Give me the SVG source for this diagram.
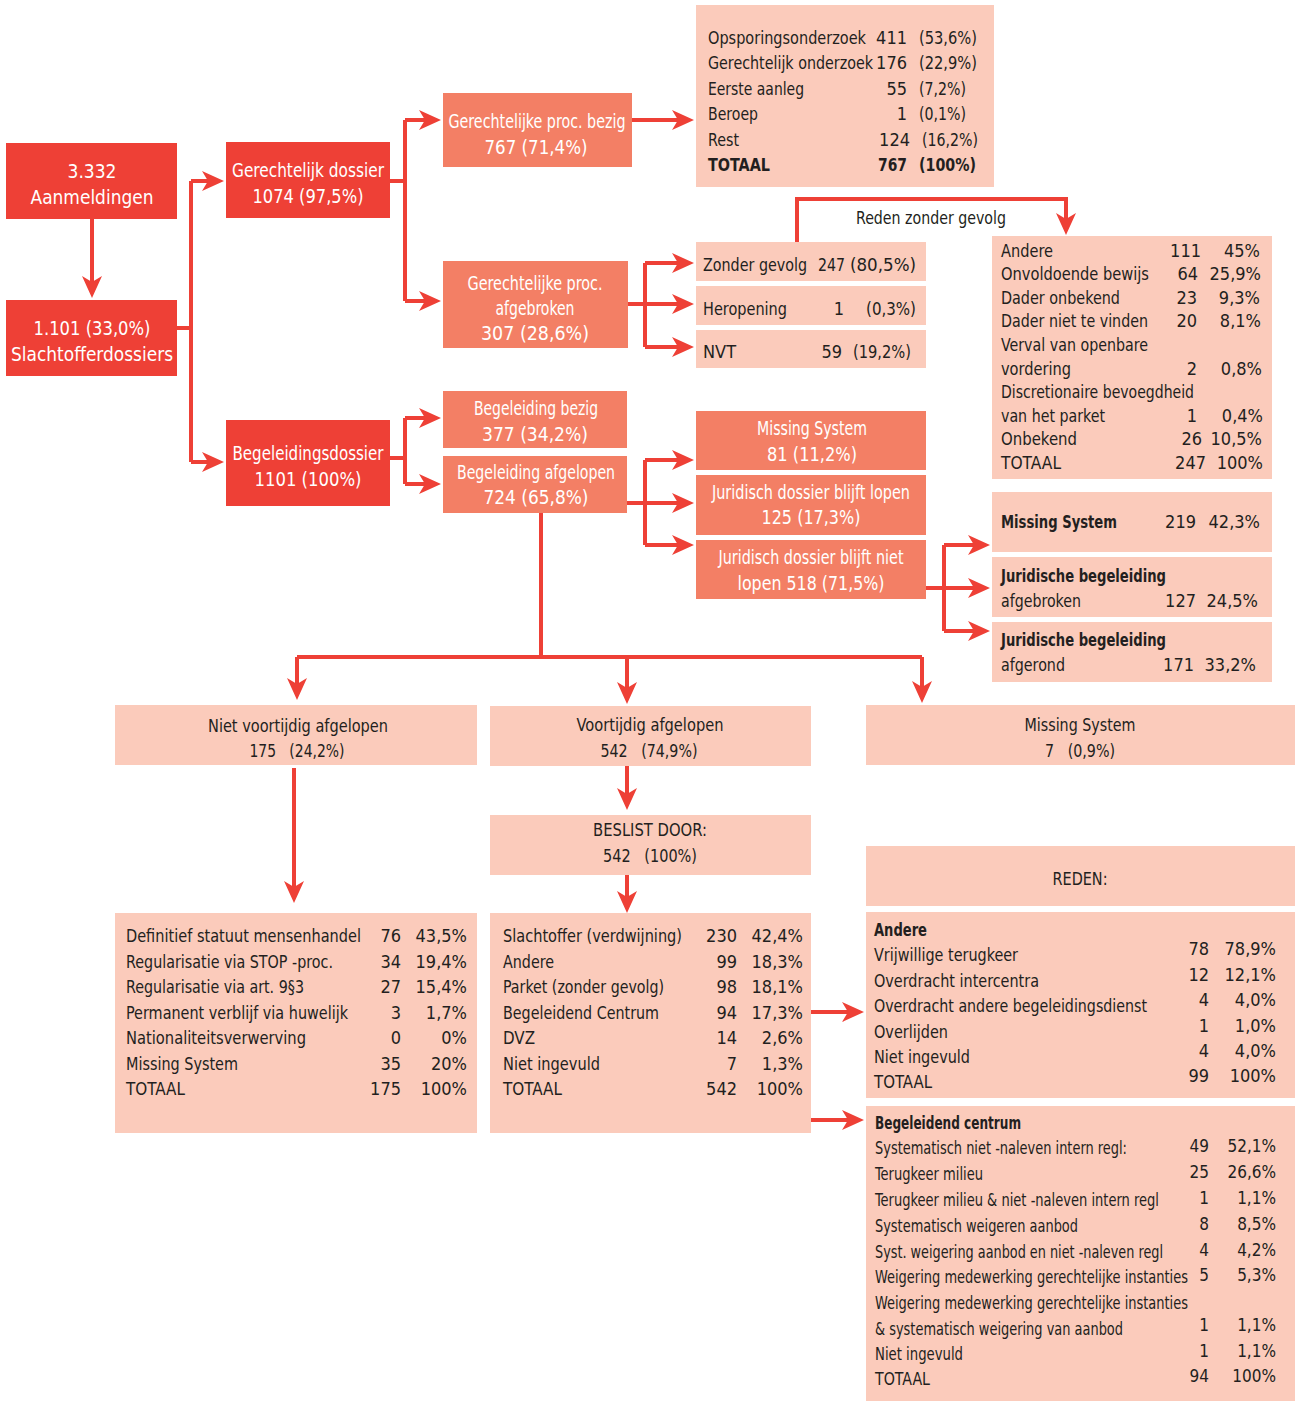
<svg xmlns="http://www.w3.org/2000/svg" width="1297" height="1402" viewBox="0 0 1297 1402">
<defs>
<style>
text{font-family:"Liberation Sans Narrow","DejaVu Sans Condensed","Roboto Condensed","DejaVu Sans",sans-serif;font-stretch:condensed;font-size:18px;fill:#231F20}
.w{fill:#FFFFFF;text-anchor:middle;font-size:19px}
.c{text-anchor:middle}
.r{text-anchor:end}
.b{font-weight:bold}
.s{font-size:17px}
.d{fill:#EE4036}
.m{fill:#F37F65}
.l{fill:#FBCBBB}
.cn{fill:none;stroke:#EE4036;stroke-width:4}
.ar{marker-end:url(#ah)}
</style>
<marker id="ah" markerUnits="userSpaceOnUse" viewBox="-30 -11 30 22" refX="-8" refY="0" markerWidth="30" markerHeight="22" orient="auto">
<path d="M0,0 L-22,-10 L-16,0 L-22,10 Z" fill="#EE4036"/>
</marker>
</defs>
<rect width="1297" height="1402" fill="#FFFFFF"/>

<g id="connectors">
<path class="cn ar" d="M92,219 V290"/>
<path class="cn" d="M177,328 H191 M191,181 V462"/>
<path class="cn ar" d="M191,181 H216"/>
<path class="cn ar" d="M191,462 H216"/>
<path class="cn" d="M390,181 H405 M405,120 V301"/>
<path class="cn ar" d="M405,120 H433"/>
<path class="cn ar" d="M405,301 H433"/>
<path class="cn ar" d="M632,120 H686"/>
<path class="cn" d="M628,304 H645 M645,263 V347"/>
<path class="cn ar" d="M645,263 H686"/>
<path class="cn ar" d="M645,304 H686"/>
<path class="cn ar" d="M645,347 H686"/>
<path class="cn ar" d="M797,242 V199 H1066 V227"/>
<path class="cn" d="M390,458 H405 M405,418 V484"/>
<path class="cn ar" d="M405,418 H433"/>
<path class="cn ar" d="M405,484 H433"/>
<path class="cn" d="M627,503 H645 M645,460 V545"/>
<path class="cn ar" d="M645,460 H686"/>
<path class="cn ar" d="M645,503 H686"/>
<path class="cn ar" d="M645,545 H686"/>
<path class="cn" d="M926,588 H944 M944,545 V631"/>
<path class="cn ar" d="M944,545 H982"/>
<path class="cn ar" d="M944,588 H982"/>
<path class="cn ar" d="M944,631 H982"/>
<path class="cn" d="M541,513 V657 M297,657 H922"/>
<path class="cn ar" d="M297,657 V692"/>
<path class="cn ar" d="M627,657 V696"/>
<path class="cn ar" d="M922,657 V695"/>
<path class="cn ar" d="M294,768 V895"/>
<path class="cn ar" d="M627,766 V802"/>
<path class="cn ar" d="M627,875 V905"/>
<path class="cn ar" d="M811,1012 H856"/>
<path class="cn ar" d="M811,1120 H856"/>
<text x="931" y="224" class="c" textLength="150" lengthAdjust="spacingAndGlyphs">Reden zonder gevolg</text>
</g>

<g id="aanmeldingen">
<rect class="d" x="6" y="143" width="171" height="76"/>
<text class="w" x="92" y="178" textLength="49" lengthAdjust="spacingAndGlyphs">3.332</text>
<text class="w" x="92" y="204" textLength="123" lengthAdjust="spacingAndGlyphs">Aanmeldingen</text>
</g>
<g id="slachtofferdossiers">
<rect class="d" x="6" y="300" width="171" height="76"/>
<text class="w" x="92" y="335" textLength="117" lengthAdjust="spacingAndGlyphs">1.101 (33,0%)</text>
<text class="w" x="92" y="361" textLength="162" lengthAdjust="spacingAndGlyphs">Slachtofferdossiers</text>
</g>
<g id="gerechtelijk-dossier">
<rect class="d" x="226" y="142" width="164" height="76"/>
<text class="w" x="308" y="177" textLength="152" lengthAdjust="spacingAndGlyphs">Gerechtelijk dossier</text>
<text class="w" x="308" y="203" textLength="111" lengthAdjust="spacingAndGlyphs">1074 (97,5%)</text>
</g>
<g id="begeleidingsdossier">
<rect class="d" x="226" y="420" width="164" height="86"/>
<text class="w" x="308" y="460" textLength="151" lengthAdjust="spacingAndGlyphs">Begeleidingsdossier</text>
<text class="w" x="308" y="486" textLength="107" lengthAdjust="spacingAndGlyphs">1101 (100%)</text>
</g>

<g id="proc-bezig">
<rect class="m" x="443" y="93" width="189" height="74"/>
<text class="w" x="537" y="128" textLength="177" lengthAdjust="spacingAndGlyphs">Gerechtelijke proc. bezig</text>
<text class="w" x="536" y="154" textLength="103" lengthAdjust="spacingAndGlyphs">767 (71,4%)</text>
</g>
<g id="proc-afgebroken">
<rect class="m" x="443" y="261" width="185" height="87"/>
<text class="w" x="535" y="290" textLength="135" lengthAdjust="spacingAndGlyphs">Gerechtelijke proc.</text>
<text class="w" x="535" y="315" textLength="79" lengthAdjust="spacingAndGlyphs">afgebroken</text>
<text class="w" x="535" y="340" textLength="108" lengthAdjust="spacingAndGlyphs">307 (28,6%)</text>
</g>

<g id="tabel-bezig">
<rect class="l" x="696" y="5" width="298" height="182"/>
<text x="708" y="44" textLength="158" lengthAdjust="spacingAndGlyphs">Opsporingsonderzoek</text><text class="r" x="907" y="44">411</text><text x="919" y="44" textLength="58" lengthAdjust="spacingAndGlyphs">(53,6%)</text>
<text x="708" y="69" textLength="165" lengthAdjust="spacingAndGlyphs">Gerechtelijk onderzoek</text><text class="r" x="907" y="69">176</text><text x="919" y="69" textLength="58" lengthAdjust="spacingAndGlyphs">(22,9%)</text>
<text x="708" y="95" textLength="96" lengthAdjust="spacingAndGlyphs">Eerste aanleg</text><text class="r" x="907" y="95">55</text><text x="919" y="95" textLength="47" lengthAdjust="spacingAndGlyphs">(7,2%)</text>
<text x="708" y="120" textLength="50" lengthAdjust="spacingAndGlyphs">Beroep</text><text class="r" x="907" y="120">1</text><text x="919" y="120" textLength="47" lengthAdjust="spacingAndGlyphs">(0,1%)</text>
<text x="708" y="146" textLength="31" lengthAdjust="spacingAndGlyphs">Rest</text><text class="r" x="910" y="146">124</text><text x="922" y="146" textLength="56" lengthAdjust="spacingAndGlyphs">(16,2%)</text>
<text class="b" x="708" y="171" textLength="62" lengthAdjust="spacingAndGlyphs">TOTAAL</text><text class="r b" x="907" y="171" textLength="29" lengthAdjust="spacingAndGlyphs">767</text><text class="b" x="919" y="171" textLength="57" lengthAdjust="spacingAndGlyphs">(100%)</text>
</g>

<g id="zonder-gevolg">
<rect class="l" x="696" y="242" width="230" height="39"/>
<text x="703" y="271" textLength="104" lengthAdjust="spacingAndGlyphs">Zonder gevolg</text><text class="r" x="845" y="271" textLength="27" lengthAdjust="spacingAndGlyphs">247</text><text class="r" x="916" y="271" textLength="66" lengthAdjust="spacingAndGlyphs">(80,5%)</text>
</g>
<g id="heropening">
<rect class="l" x="696" y="286" width="230" height="39"/>
<text x="703" y="315" textLength="84" lengthAdjust="spacingAndGlyphs">Heropening</text><text class="r" x="844" y="315">1</text><text class="r" x="916" y="315" textLength="50" lengthAdjust="spacingAndGlyphs">(0,3%)</text>
</g>
<g id="nvt">
<rect class="l" x="696" y="330" width="230" height="38"/>
<text x="703" y="358" textLength="33" lengthAdjust="spacingAndGlyphs">NVT</text><text class="r" x="842" y="358">59</text><text class="r" x="911" y="358" textLength="58" lengthAdjust="spacingAndGlyphs">(19,2%)</text>
</g>

<g id="tabel-reden-zonder-gevolg">
<rect class="l" x="992" y="236" width="280" height="243"/>
<text x="1001" y="257" textLength="52" lengthAdjust="spacingAndGlyphs">Andere</text><text class="r" x="1201" y="257">111</text><text class="r" x="1260" y="257">45%</text>
<text x="1001" y="280" textLength="148" lengthAdjust="spacingAndGlyphs">Onvoldoende bewijs</text><text class="r" x="1198" y="280">64</text><text class="r" x="1261" y="280">25,9%</text>
<text x="1001" y="304" textLength="119" lengthAdjust="spacingAndGlyphs">Dader onbekend</text><text class="r" x="1197" y="304">23</text><text class="r" x="1260" y="304">9,3%</text>
<text x="1001" y="327" textLength="147" lengthAdjust="spacingAndGlyphs">Dader niet te vinden</text><text class="r" x="1197" y="327">20</text><text class="r" x="1261" y="327">8,1%</text>
<text x="1001" y="351" textLength="147" lengthAdjust="spacingAndGlyphs">Verval van openbare</text>
<text x="1001" y="375" textLength="70" lengthAdjust="spacingAndGlyphs">vordering</text><text class="r" x="1197" y="375">2</text><text class="r" x="1262" y="375">0,8%</text>
<text x="1001" y="398" textLength="193" lengthAdjust="spacingAndGlyphs">Discretionaire bevoegdheid</text>
<text x="1001" y="422" textLength="104" lengthAdjust="spacingAndGlyphs">van het parket</text><text class="r" x="1197" y="422">1</text><text class="r" x="1263" y="422">0,4%</text>
<text x="1001" y="445" textLength="76" lengthAdjust="spacingAndGlyphs">Onbekend</text><text class="r" x="1202" y="445">26</text><text class="r" x="1262" y="445">10,5%</text>
<text x="1001" y="469" textLength="60" lengthAdjust="spacingAndGlyphs">TOTAAL</text><text class="r" x="1206" y="469">247</text><text class="r" x="1263" y="469">100%</text>
</g>

<g id="begeleiding-bezig">
<rect class="m" x="443" y="391" width="184" height="57"/>
<text class="w" x="536" y="415" textLength="124" lengthAdjust="spacingAndGlyphs">Begeleiding bezig</text>
<text class="w" x="535" y="441" textLength="106" lengthAdjust="spacingAndGlyphs">377 (34,2%)</text>
</g>
<g id="begeleiding-afgelopen">
<rect class="m" x="443" y="456" width="184" height="57"/>
<text class="w" x="536" y="479" textLength="158" lengthAdjust="spacingAndGlyphs">Begeleiding afgelopen</text>
<text class="w" x="536" y="504" textLength="105" lengthAdjust="spacingAndGlyphs">724 (65,8%)</text>
</g>

<g id="missing-81">
<rect class="m" x="696" y="411" width="230" height="59"/>
<text class="w" x="812" y="435" textLength="110" lengthAdjust="spacingAndGlyphs">Missing System</text>
<text class="w" x="812" y="461" textLength="90" lengthAdjust="spacingAndGlyphs">81 (11,2%)</text>
</g>
<g id="blijft-lopen">
<rect class="m" x="696" y="475" width="230" height="60"/>
<text class="w" x="811" y="499" textLength="198" lengthAdjust="spacingAndGlyphs">Juridisch dossier blijft lopen</text>
<text class="w" x="811" y="524" textLength="99" lengthAdjust="spacingAndGlyphs">125 (17,3%)</text>
</g>
<g id="blijft-niet-lopen">
<rect class="m" x="696" y="540" width="230" height="59"/>
<text class="w" x="811" y="564" textLength="185" lengthAdjust="spacingAndGlyphs">Juridisch dossier blijft niet</text>
<text class="w" x="811" y="590" textLength="147" lengthAdjust="spacingAndGlyphs">lopen 518 (71,5%)</text>
</g>

<g id="missing-219">
<rect class="l" x="992" y="492" width="280" height="60"/>
<text class="b" x="1001" y="528" textLength="116" lengthAdjust="spacingAndGlyphs">Missing System</text><text class="r" x="1196" y="528">219</text><text class="r" x="1260" y="528">42,3%</text>
</g>
<g id="jur-afgebroken">
<rect class="l" x="992" y="557" width="280" height="60"/>
<text class="b" x="1001" y="582" textLength="165" lengthAdjust="spacingAndGlyphs">Juridische begeleiding</text>
<text x="1001" y="607" textLength="80" lengthAdjust="spacingAndGlyphs">afgebroken</text><text class="r" x="1196" y="607">127</text><text class="r" x="1258" y="607">24,5%</text>
</g>
<g id="jur-afgerond">
<rect class="l" x="992" y="622" width="280" height="60"/>
<text class="b" x="1001" y="646" textLength="165" lengthAdjust="spacingAndGlyphs">Juridische begeleiding</text>
<text x="1001" y="671" textLength="64" lengthAdjust="spacingAndGlyphs">afgerond</text><text class="r" x="1194" y="671">171</text><text class="r" x="1256" y="671">33,2%</text>
</g>

<g id="niet-voortijdig">
<rect class="l" x="115" y="705" width="362" height="60"/>
<text class="c" x="298" y="732" textLength="180" lengthAdjust="spacingAndGlyphs">Niet voortijdig afgelopen</text>
<text class="c" x="297" y="757" xml:space="preserve" textLength="95" lengthAdjust="spacingAndGlyphs">175   (24,2%)</text>
</g>
<g id="voortijdig">
<rect class="l" x="490" y="706" width="321" height="60"/>
<text class="c" x="650" y="731" textLength="147" lengthAdjust="spacingAndGlyphs">Voortijdig afgelopen</text>
<text class="c" x="649" y="757" xml:space="preserve" textLength="97" lengthAdjust="spacingAndGlyphs">542   (74,9%)</text>
</g>
<g id="missing-7">
<rect class="l" x="866" y="705" width="429" height="60"/>
<text class="c" x="1080" y="731" textLength="111" lengthAdjust="spacingAndGlyphs">Missing System</text>
<text class="c" x="1080" y="757" xml:space="preserve" textLength="70" lengthAdjust="spacingAndGlyphs">7   (0,9%)</text>
</g>

<g id="beslist-door">
<rect class="l" x="490" y="815" width="321" height="60"/>
<text class="c" x="650" y="836" textLength="114" lengthAdjust="spacingAndGlyphs">BESLIST DOOR:</text>
<text class="c" x="650" y="862" xml:space="preserve" textLength="94" lengthAdjust="spacingAndGlyphs">542   (100%)</text>
</g>

<g id="tabel-niet-voortijdig">
<rect class="l" x="115" y="913" width="362" height="220"/>
<text x="126" y="942" textLength="235" lengthAdjust="spacingAndGlyphs">Definitief statuut mensenhandel</text><text class="r" x="401" y="942">76</text><text class="r" x="467" y="942">43,5%</text>
<text x="126" y="968" textLength="207" lengthAdjust="spacingAndGlyphs">Regularisatie via STOP -proc.</text><text class="r" x="401" y="968">34</text><text class="r" x="467" y="968">19,4%</text>
<text x="126" y="993" textLength="178" lengthAdjust="spacingAndGlyphs">Regularisatie via art. 9§3</text><text class="r" x="401" y="993">27</text><text class="r" x="467" y="993">15,4%</text>
<text x="126" y="1019" textLength="222" lengthAdjust="spacingAndGlyphs">Permanent verblijf via huwelijk</text><text class="r" x="401" y="1019">3</text><text class="r" x="467" y="1019">1,7%</text>
<text x="126" y="1044" textLength="180" lengthAdjust="spacingAndGlyphs">Nationaliteitsverwerving</text><text class="r" x="401" y="1044">0</text><text class="r" x="467" y="1044">0%</text>
<text x="126" y="1070" textLength="112" lengthAdjust="spacingAndGlyphs">Missing System</text><text class="r" x="401" y="1070">35</text><text class="r" x="467" y="1070">20%</text>
<text x="126" y="1095" textLength="59" lengthAdjust="spacingAndGlyphs">TOTAAL</text><text class="r" x="401" y="1095">175</text><text class="r" x="467" y="1095">100%</text>
</g>

<g id="tabel-beslist-door">
<rect class="l" x="490" y="913" width="321" height="220"/>
<text x="503" y="942" textLength="179" lengthAdjust="spacingAndGlyphs">Slachtoffer (verdwijning)</text><text class="r" x="737" y="942">230</text><text class="r" x="803" y="942">42,4%</text>
<text x="503" y="968" textLength="51" lengthAdjust="spacingAndGlyphs">Andere</text><text class="r" x="737" y="968">99</text><text class="r" x="803" y="968">18,3%</text>
<text x="503" y="993" textLength="161" lengthAdjust="spacingAndGlyphs">Parket (zonder gevolg)</text><text class="r" x="737" y="993">98</text><text class="r" x="803" y="993">18,1%</text>
<text x="503" y="1019" textLength="156" lengthAdjust="spacingAndGlyphs">Begeleidend Centrum</text><text class="r" x="737" y="1019">94</text><text class="r" x="803" y="1019">17,3%</text>
<text x="503" y="1044" textLength="32" lengthAdjust="spacingAndGlyphs">DVZ</text><text class="r" x="737" y="1044">14</text><text class="r" x="803" y="1044">2,6%</text>
<text x="503" y="1070" textLength="97" lengthAdjust="spacingAndGlyphs">Niet ingevuld</text><text class="r" x="737" y="1070">7</text><text class="r" x="803" y="1070">1,3%</text>
<text x="503" y="1095" textLength="59" lengthAdjust="spacingAndGlyphs">TOTAAL</text><text class="r" x="737" y="1095">542</text><text class="r" x="803" y="1095">100%</text>
</g>

<g id="reden">
<rect class="l" x="866" y="846" width="429" height="60"/>
<text class="c" x="1080" y="885" textLength="55" lengthAdjust="spacingAndGlyphs">REDEN:</text>
</g>

<g id="tabel-andere">
<rect class="l" x="866" y="912" width="429" height="186"/>
<text class="b" x="874" y="936" textLength="53" lengthAdjust="spacingAndGlyphs">Andere</text>
<text x="874" y="961" textLength="144" lengthAdjust="spacingAndGlyphs">Vrijwillige terugkeer</text><text class="r" x="1209" y="955">78</text><text class="r" x="1276" y="955">78,9%</text>
<text x="874" y="987" textLength="165" lengthAdjust="spacingAndGlyphs">Overdracht intercentra</text><text class="r" x="1209" y="981">12</text><text class="r" x="1276" y="981">12,1%</text>
<text x="874" y="1012" textLength="273" lengthAdjust="spacingAndGlyphs">Overdracht andere begeleidingsdienst</text><text class="r" x="1209" y="1006">4</text><text class="r" x="1276" y="1006">4,0%</text>
<text x="874" y="1038" textLength="74" lengthAdjust="spacingAndGlyphs">Overlijden</text><text class="r" x="1209" y="1032">1</text><text class="r" x="1276" y="1032">1,0%</text>
<text x="874" y="1063" textLength="96" lengthAdjust="spacingAndGlyphs">Niet ingevuld</text><text class="r" x="1209" y="1057">4</text><text class="r" x="1276" y="1057">4,0%</text>
<text x="874" y="1088" textLength="58" lengthAdjust="spacingAndGlyphs">TOTAAL</text><text class="r" x="1209" y="1082">99</text><text class="r" x="1276" y="1082">100%</text>
</g>

<g id="tabel-begeleidend-centrum">
<rect class="l" x="866" y="1106" width="429" height="295"/>
<text class="b s" x="875" y="1129" textLength="146" lengthAdjust="spacingAndGlyphs">Begeleidend centrum</text>
<text class="s" x="875" y="1154" textLength="252" lengthAdjust="spacingAndGlyphs">Systematisch niet -naleven intern regl:</text><text class="r s" x="1209" y="1152">49</text><text class="r s" x="1276" y="1152">52,1%</text>
<text class="s" x="875" y="1180" textLength="108" lengthAdjust="spacingAndGlyphs">Terugkeer milieu</text><text class="r s" x="1209" y="1178">25</text><text class="r s" x="1276" y="1178">26,6%</text>
<text class="s" x="875" y="1206" textLength="284" lengthAdjust="spacingAndGlyphs">Terugkeer milieu &amp; niet -naleven intern regl</text><text class="r s" x="1209" y="1204">1</text><text class="r s" x="1276" y="1204">1,1%</text>
<text class="s" x="875" y="1232" textLength="203" lengthAdjust="spacingAndGlyphs">Systematisch weigeren aanbod</text><text class="r s" x="1209" y="1230">8</text><text class="r s" x="1276" y="1230">8,5%</text>
<text class="s" x="875" y="1258" textLength="288" lengthAdjust="spacingAndGlyphs">Syst. weigering aanbod en niet -naleven regl</text><text class="r s" x="1209" y="1256">4</text><text class="r s" x="1276" y="1256">4,2%</text>
<text class="s" x="875" y="1283" textLength="313" lengthAdjust="spacingAndGlyphs">Weigering medewerking gerechtelijke instanties</text><text class="r s" x="1209" y="1281">5</text><text class="r s" x="1276" y="1281">5,3%</text>
<text class="s" x="875" y="1309" textLength="313" lengthAdjust="spacingAndGlyphs">Weigering medewerking gerechtelijke instanties</text>
<text class="s" x="875" y="1335" textLength="248" lengthAdjust="spacingAndGlyphs">&amp; systematisch weigering van aanbod</text><text class="r s" x="1209" y="1331">1</text><text class="r s" x="1276" y="1331">1,1%</text>
<text class="s" x="875" y="1360" textLength="88" lengthAdjust="spacingAndGlyphs">Niet ingevuld</text><text class="r s" x="1209" y="1357">1</text><text class="r s" x="1276" y="1357">1,1%</text>
<text class="s" x="875" y="1385" textLength="55" lengthAdjust="spacingAndGlyphs">TOTAAL</text><text class="r s" x="1209" y="1382">94</text><text class="r s" x="1276" y="1382">100%</text>
</g>
</svg>
